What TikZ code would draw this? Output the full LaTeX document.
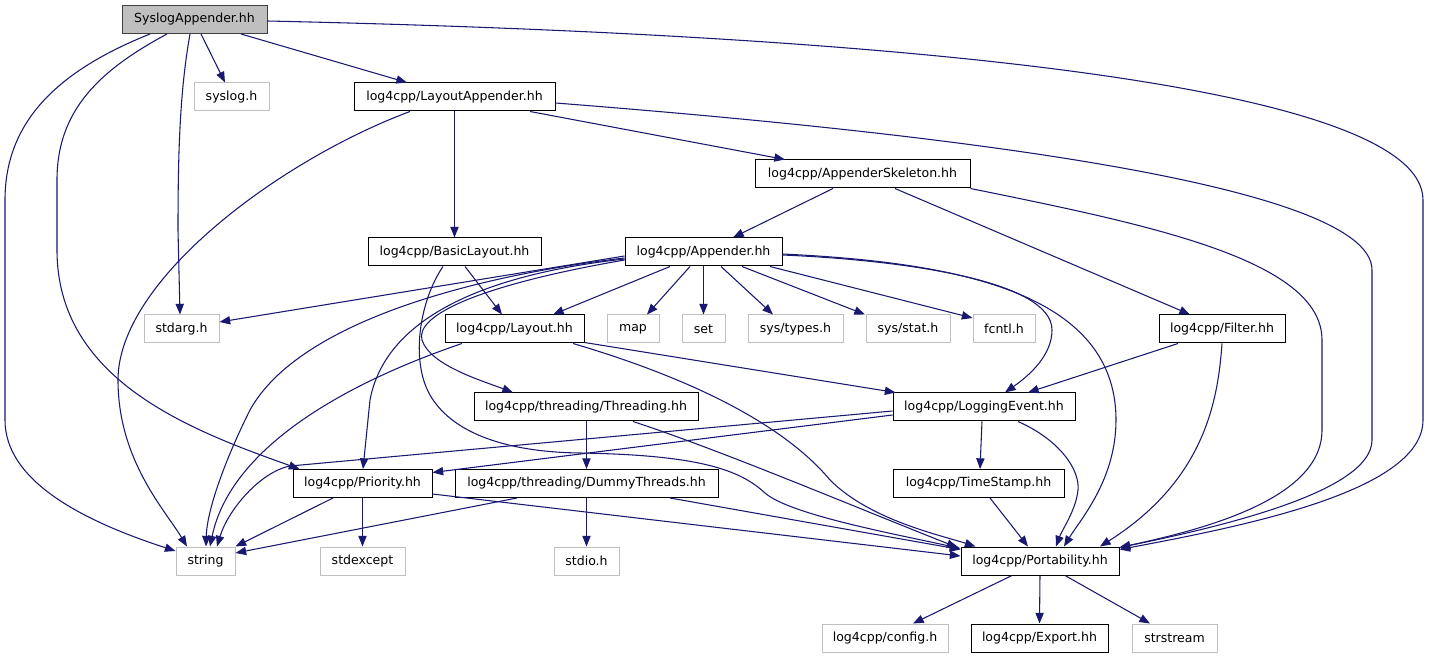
\documentclass[tikz,border=0pt]{standalone}
\usepackage{fontspec}
\setmainfont{DejaVu Sans}
\usetikzlibrary{arrows.meta,calc}
\definecolor{edgec}{HTML}{191970}
\definecolor{greyb}{HTML}{BFBFBF}
\begin{document}
\begin{tikzpicture}[x=0.75pt,y=-0.75pt,
  box/.style={draw=black,line width=0.75pt,fill=white,minimum height=21pt,inner xsep=0pt,inner ysep=0pt,font=\fontsize{9.4}{11}\selectfont,text=black},
  ext/.style={box,draw=greyb},
  root/.style={box,draw=black!75,fill=greyb},
  dep/.style={draw=edgec,line width=0.8pt,-{Triangle[length=8pt,width=6.2pt]}}]
\useasboundingbox (0,0) rectangle (1429,659);
% nodes
\node[root,minimum width=145*0.75pt] (sa) at (194.5,19.5) {SyslogAppender.hh};
\node[ext,minimum width=75*0.75pt] (syh) at (231.5,97) {syslog.h};
\node[box,minimum width=201*0.75pt] (la) at (454.5,97) {log4cpp/LayoutAppender.hh};
\node[box,minimum width=215*0.75pt] (ask) at (862.5,174) {log4cpp/AppenderSkeleton.hh};
\node[box,minimum width=173*0.75pt] (bl) at (454.5,252) {log4cpp/BasicLayout.hh};
\node[box,minimum width=157*0.75pt] (ap) at (703.5,252) {log4cpp/Appender.hh};
\node[ext,minimum width=75*0.75pt] (sta) at (181.5,329) {stdarg.h};
\node[box,minimum width=139*0.75pt] (lay) at (514.5,329) {log4cpp/Layout.hh};
\node[ext,minimum width=52*0.75pt] (map) at (633,329) {map};
\node[ext,minimum width=43*0.75pt] (set) at (703.5,329) {set};
\node[ext,minimum width=95*0.75pt] (stt) at (795.5,329) {sys/types.h};
\node[ext,minimum width=84*0.75pt] (sts) at (908,329) {sys/stat.h};
\node[ext,minimum width=62*0.75pt] (fc) at (1004,329) {fcntl.h};
\node[box,minimum width=126*0.75pt] (fi) at (1222,329) {log4cpp/Filter.hh};
\node[box,minimum width=224*0.75pt] (th) at (586,407) {log4cpp/threading/Threading.hh};
\node[box,minimum width=182*0.75pt] (le) at (984,407) {log4cpp/LoggingEvent.hh};
\node[box,minimum width=139*0.75pt] (pr) at (362.5,483.5) {log4cpp/Priority.hh};
\node[box,minimum width=263*0.75pt] (du) at (586.5,483.5) {log4cpp/threading/DummyThreads.hh};
\node[box,minimum width=171*0.75pt] (ts) at (978.5,483.5) {log4cpp/TimeStamp.hh};
\node[ext,minimum width=59*0.75pt] (str) at (205.5,561) {string};
\node[ext,minimum width=85*0.75pt] (sex) at (362.5,561) {stdexcept};
\node[ext,minimum width=65*0.75pt] (sio) at (586.5,561) {stdio.h};
\node[box,minimum width=158*0.75pt] (po) at (1040,561) {log4cpp/Portability.hh};
\node[ext,minimum width=126*0.75pt] (cf) at (885,638) {log4cpp/config.h};
\node[box,minimum width=137*0.75pt] (ex) at (1039.5,638) {log4cpp/Export.hh};
\node[ext,minimum width=85*0.75pt] (sst) at (1174.5,638) {strstream};
% edges from SyslogAppender
\draw[dep] ($(sa.south)+(-44.5,0)$) .. controls (60,70) and (5,120) .. (5,200) -- (5,420) .. controls (5,480) and (80,520) .. ($(str.west)+(0,-10)$);
\draw[dep] ($(sa.south)+(-27.5,0)$) .. controls (100,70) and (57,110) .. (57,180) -- (57,250) .. controls (57,380) and (190,430) .. ($(pr.north west)+(7,0)$);
\draw[dep] ($(sa.south)+(-4.5,0)$) .. controls (180,90) and (178,150) .. (178,230) -- ($(sta.north)+(-1.5,0)$);
\draw[dep] ($(sa.south)+(6.5,0)$) -- ($(syh.north)+(-6.5,0)$);
\draw[dep] ($(sa.south)+(46.5,0)$) -- ($(la.north)+(-47.5,0)$);
\draw[dep] ($(sa.east)+(0,1.5)$) .. controls (900,35) and (1423,85) .. (1423,200) -- (1423,420) .. controls (1423,490) and (1250,525) .. ($(po.north east)+(0,3)$);
% LayoutAppender
\draw[dep] ($(la.south)+(-44.5,0)$) .. controls (280,160) and (118,280) .. (118,380) .. controls (118,460) and (165,510) .. ($(str.north)+(-18.5,0)$);
\draw[dep] (la.south) -- (bl.north);
\draw[dep] ($(la.south)+(75.5,0)$) -- ($(ask.north)+(-77.5,0)$);
\draw[dep] ($(la.east)+(0,6)$) .. controls (900,130) and (1372,180) .. (1372,270) -- (1372,440) .. controls (1372,490) and (1230,525) .. ($(po.north east)+(0,1)$);
% AppenderSkeleton
\draw[dep] ($(ask.south)+(-29.5,0)$) -- ($(ap.north)+(29.5,0)$);
\draw[dep] ($(ask.south)+(32.5,0)$) -- ($(fi.north)+(-32,0)$);
\draw[dep] (ask.south east) .. controls (1150,225) and (1322,260) .. (1322,340) -- (1322,430) .. controls (1322,500) and (1200,530) .. ($(po.north east)+(0,1)$);
% BasicLayout
\draw[dep] ($(bl.south)+(10.5,0)$) -- ($(lay.north)+(-12.5,0)$);
\draw[dep] ($(bl.south)+(-11.5,0)$) .. controls (420,300) and (410,360) .. (430,395) .. controls (450,430) and (500,452) .. (580,453) .. controls (700,455) and (740,470) .. (765,493) .. controls (790,515) and (900,535) .. ($(po.north west)+(0,2)$);
% Appender
\draw[dep] ($(ap.west)+(0,4)$) -- ($(sta.east)+(0,-7)$);
\draw[dep] ($(ap.west)+(0,6)$) .. controls (480,275) and (300,320) .. (250,410) .. controls (225,460) and (207,510) .. ($(str.north)+(0.5,0)$);
\draw[dep] ($(ap.west)+(0,7)$) .. controls (480,275) and (385,320) .. (370,400) -- ($(pr.north)+(0.5,0)$);
\draw[dep] ($(ap.west)+(0,8)$) .. controls (480,285) and (415,315) .. (422,340) .. controls (430,365) and (480,380) .. ($(th.north)+(-73,0)$);
\draw[dep] ($(ap.south)+(-33.5,0)$) -- ($(lay.north)+(38.5,0)$);
\draw[dep] ($(ap.south)+(-13.5,0)$) -- ($(map.north)+(14,0)$);
\draw[dep] (ap.south) -- (set.north);
\draw[dep] ($(ap.south)+(17.5,0)$) -- ($(stt.north)+(-22.5,0)$);
\draw[dep] ($(ap.south)+(38.5,0)$) -- ($(sts.north)+(-43,0)$);
\draw[dep] ($(ap.south)+(66.5,0)$) -- ($(fc.west)+(0,-11)$);
\draw[dep] ($(ap.east)+(0,3)$) .. controls (900,260) and (1052,280) .. (1052,330) .. controls (1052,355) and (1030,375) .. ($(le.north)+(21,0)$);
\draw[dep] ($(ap.east)+(0,2)$) .. controls (950,262) and (1116,290) .. (1116,420) .. controls (1116,480) and (1080,520) .. ($(po.north)+(24,0)$);
% Layout
\draw[dep] ($(lay.south)+(-52.5,0)$) .. controls (340,385) and (230,450) .. ($(str.north)+(4.5,0)$);
\draw[dep] ($(lay.south east)+(0,-1)$) -- ($(le.north west)+(3,0)$);
\draw[dep] ($(lay.south)+(58.5,0)$) .. controls (680,375) and (780,420) .. (830,480) .. controls (870,520) and (940,535) .. ($(po.north west)+(15,0)$);
% Filter
\draw[dep] ($(fi.south)+(-44,0)$) -- ($(le.north)+(44,0)$);
\draw[dep] (fi.south) .. controls (1218,400) and (1205,480) .. ($(po.north)+(60,0)$);
% Threading
\draw[dep] ($(th.south)+(0.5,0)$) -- (du.north);
\draw[dep] ($(th.south)+(47,0)$) .. controls (720,450) and (850,505) .. ($(po.north west)+(-3,1)$);
% LoggingEvent
\draw[dep] ($(le.west)+(0,4)$) -- (290,466) .. controls (260,472) and (228,510) .. ($(str.north)+(11.5,0)$);
\draw[dep] ($(le.west)+(0,8)$) -- ($(pr.east)+(0,-11)$);
\draw[dep] ($(le.south)+(-2,0)$) -- ($(ts.north)+(1.5,0)$);
\draw[dep] ($(le.south)+(34,0)$) .. controls (1060,440) and (1080,470) .. (1078,490) .. controls (1076,510) and (1062,530) .. ($(po.north)+(16,0)$);
% Priority
\draw[dep] ($(pr.south)+(-29.5,0)$) -- (str.north east);
\draw[dep] (pr.south) -- (sex.north);
\draw[dep] ($(pr.east)+(0,10.5)$) -- ($(po.west)+(0,-5)$);
% DummyThreads
\draw[dep] ($(du.south)+(-69.5,0)$) -- ($(str.east)+(0,-8)$);
\draw[dep] (du.south) -- (sio.north);
\draw[dep] ($(du.south)+(83.5,0)$) -- ($(po.north west)+(0,3)$);
% TimeStamp
\draw[dep] ($(ts.south)+(11.5,0)$) -- ($(po.north)+(-12,0)$);
% Portability
\draw[dep] ($(po.south)+(-28,0)$) -- ($(cf.north)+(28,0)$);
\draw[dep] (po.south) -- (ex.north);
\draw[dep] ($(po.south)+(25,0)$) -- ($(sst.north)+(-24.5,0)$);
\end{tikzpicture}
\end{document}
